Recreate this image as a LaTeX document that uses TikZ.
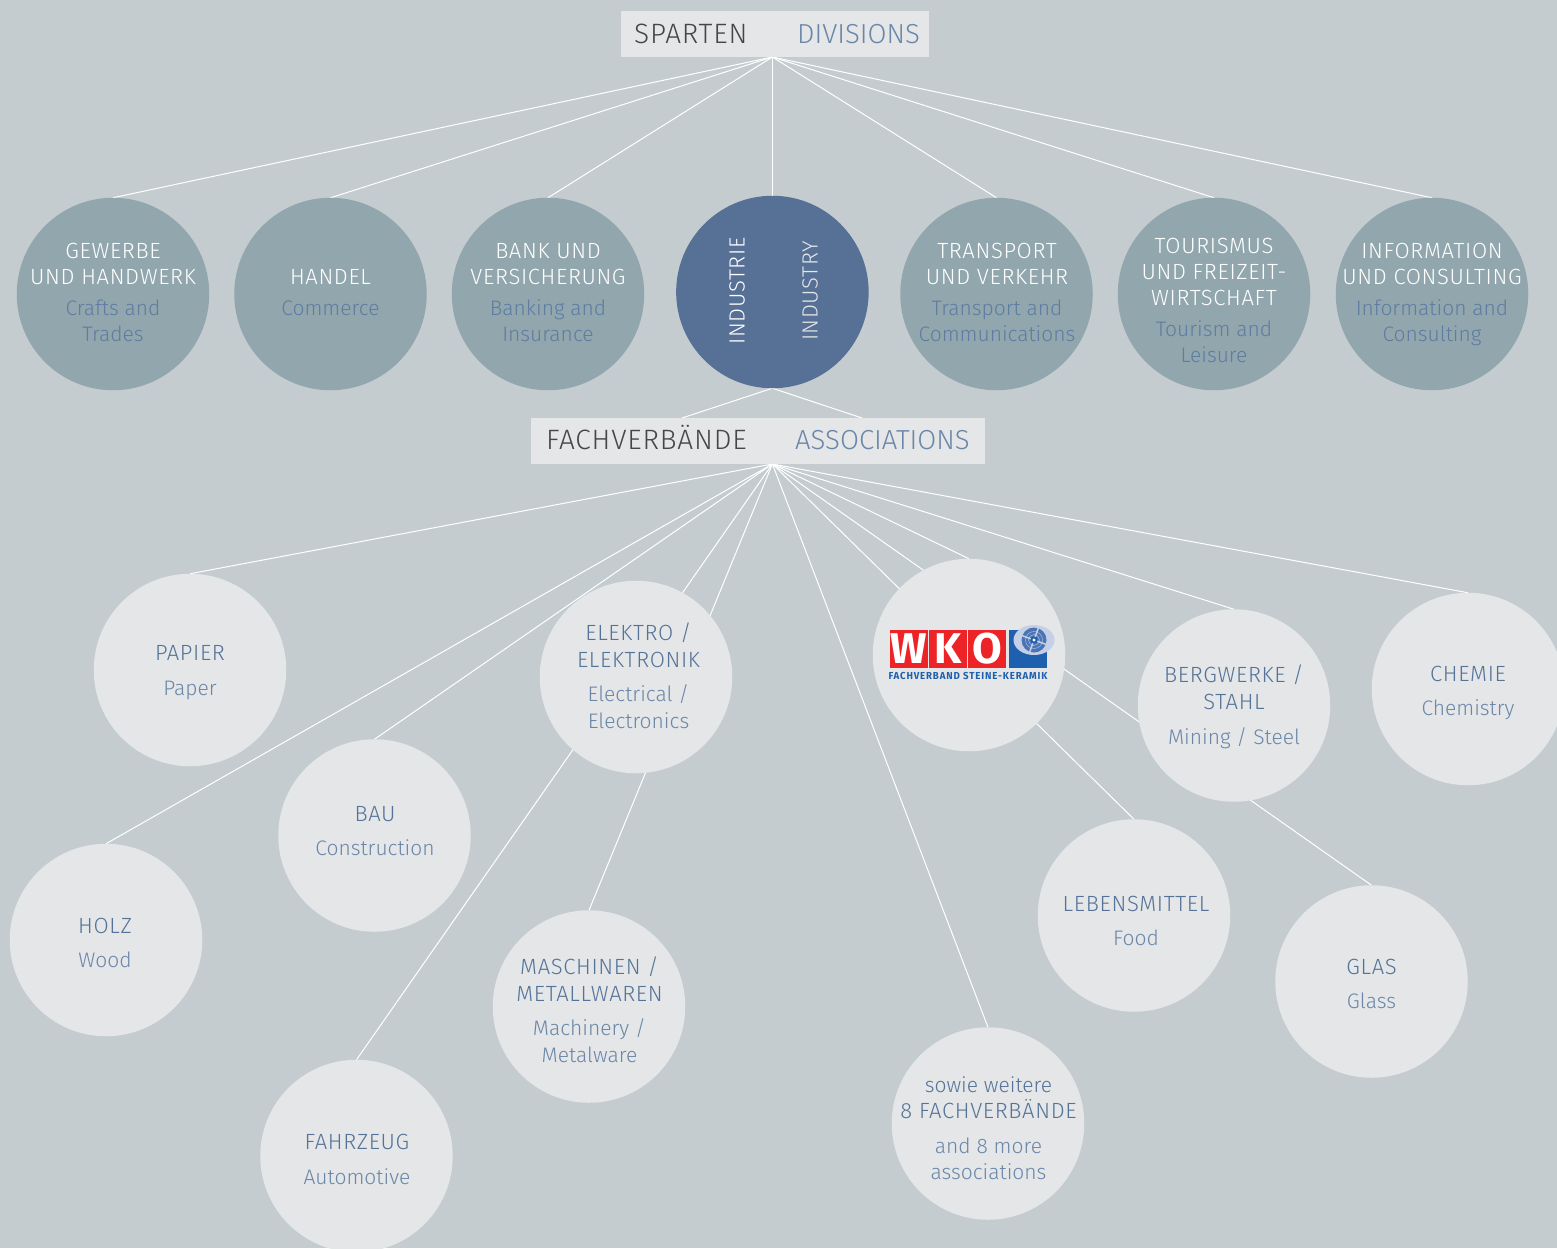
\documentclass[tikz,border=0pt]{standalone}
\usepackage{fontspec}
\usetikzlibrary{backgrounds,shapes.geometric}
\setmainfont{Fira Sans Light}
\newfontfamily\logofont{Fira Sans Bold}
\newfontfamily\logosmall{Fira Sans Bold}[LetterSpace=9]
\newfontfamily\defont{Fira Sans Light}[LetterSpace=3]
\definecolor{bgc}{HTML}{C4CCD0}
\definecolor{lightc}{HTML}{E4E6E8}
\definecolor{greyc}{HTML}{92A6AD}
\definecolor{indc}{HTML}{567096}
\definecolor{dec}{HTML}{557398}
\definecolor{enc}{HTML}{6A86A8}
\definecolor{enonc}{HTML}{5F7CA2}
\definecolor{darkc}{HTML}{444648}
\definecolor{wred}{HTML}{EC2327}
\definecolor{wblue}{HTML}{1F60AE}
\definecolor{globec}{HTML}{C5D0E8}
\definecolor{globed}{HTML}{4A74B4}
\tikzset{x=1pt,y=-1pt,
  circ/.style={circle,minimum size=192.5pt,inner sep=0pt,outer sep=0pt},
  topc/.style={circ,fill=greyc},
  lowc/.style={circ,fill=lightc},
  conn/.style={draw=white,line width=1pt},
  capbox/.style={rectangle,fill=lightc,inner sep=0pt,outer sep=0pt},
  capde/.style={inner sep=0pt,text=darkc,font=\defont\fontsize{28}{30}\selectfont,anchor=base west},
  capen/.style={inner sep=0pt,text=enc,font=\fontsize{27.5}{30}\selectfont,anchor=base west},
  toptxt/.style={inner sep=0pt,align=center,text=white,font=\fontsize{21}{26}\selectfont},
  lowtxt/.style={inner sep=0pt,align=center,text=dec,font=\fontsize{21}{26}\selectfont},
  logotxt/.style={inner sep=0pt,text=white,font=\logofont\fontsize{43}{43}\selectfont},
  redsq/.style={rectangle,fill=wred,minimum size=38pt,inner sep=0pt,outer sep=0pt},
}
\newcommand{\de}[1]{{\defont\fontsize{22}{26}\selectfont #1}}
\newcommand{\en}[1]{\textcolor{enc}{#1}}
\newcommand{\eno}[1]{\textcolor{enonc}{#1}}
\begin{document}
\begin{tikzpicture}
\useasboundingbox (0,0) rectangle (1557,1248);
\coordinate (apexA) at (772.4,57);
\coordinate (apexB) at (772.4,464);
\coordinate (forkL) at (682,418);
\coordinate (forkR) at (862,418);
\node[topc] (gew) at (113,294) {};
\node[topc] (han) at (330.5,294) {};
\node[topc] (ban) at (548,294) {};
\node[circ,fill=indc] (ind) at (772.4,292) {};
\node[topc] (tra) at (996.5,294) {};
\node[topc] (tou) at (1214,294) {};
\node[topc] (inf) at (1432,294) {};
\node[lowc] (pap) at (190,670) {};
\node[lowc] (hol) at (106,940) {};
\node[lowc] (bau) at (374.5,835.5) {};
\node[lowc] (ele) at (636,677) {};
\node[lowc] (fah) at (356.5,1156) {};
\node[lowc] (mas) at (589,1006.5) {};
\node[lowc] (sow) at (988,1123.5) {};
\node[lowc] (wko) at (969,655) {};
\node[lowc] (leb) at (1134,915.5) {};
\node[lowc] (ber) at (1234,705.5) {};
\node[lowc] (gla) at (1371.5,981.5) {};
\node[lowc] (che) at (1468,689) {};
\node[capbox,minimum width=308pt,minimum height=46pt] (boxA) at (775,34) {};
\node[capbox,minimum width=454pt,minimum height=46pt] (boxB) at (758,441) {};
\begin{pgfonlayer}{background}
\fill[bgc] (0,0) rectangle (1557,1248);
\foreach \n in {gew,han,ban,ind,tra,tou,inf}{\draw[conn] (apexA) -- (\n.north);}
\draw[conn] (ind.south) -- (forkL);
\draw[conn] (ind.south) -- (forkR);
\foreach \n in {pap,hol,bau,fah,mas,sow,wko,leb,ber,gla,che}{\draw[conn] (apexB) -- (\n.north);}
\end{pgfonlayer}
% captions
\node[capde] (capA1) at (634,43) {SPARTEN};
\node[capen] (capA2) at (797,43) {DIVISIONS};
\node[capde] (capB1) at (546,449.5) {FACHVERBÄNDE};
\node[capen] (capB2) at (795,449.5) {ASSOCIATIONS};
% upper circle texts
\node[toptxt] (tgew) at (113,292.5) {\de{GEWERBE}\\\de{UND HANDWERK}\\[5pt]\eno{Crafts and}\\\eno{Trades}};
\node[toptxt] (than) at (330.5,292.5) {\de{HANDEL}\\[5pt]\eno{Commerce}};
\node[toptxt] (tban) at (548,293) {\de{BANK UND}\\\de{VERSICHERUNG}\\[5pt]\eno{Banking and}\\\eno{Insurance}};
\node[toptxt,rotate=90] (tind1) at (737,291) {\de{INDUSTRIE}};
\node[toptxt,rotate=90,text=lightc] (tind2) at (810,291) {\de{INDUSTRY}};
\node[toptxt] (ttra) at (997,292.5) {\de{TRANSPORT}\\\de{UND VERKEHR}\\[5pt]\eno{Transport and}\\\eno{Communications}};
\node[toptxt] (ttou) at (1214,300.5) {\de{TOURISMUS}\\\de{UND FREIZEIT-}\\\de{WIRTSCHAFT}\\[5pt]\eno{Tourism and}\\\eno{Leisure}};
\node[toptxt] (tinf) at (1432,294.5) {\de{INFORMATION}\\\de{UND CONSULTING}\\[5pt]\eno{Information and}\\\eno{Consulting}};
% lower circle texts
\node[lowtxt] (tpap) at (190,672.5) {\de{PAPIER}\\[9pt]\en{Paper}};
\node[lowtxt] (thol) at (105,943) {\de{HOLZ}\\[8pt]\en{Wood}};
\node[lowtxt] (tbau) at (375,831) {\de{BAU}\\[8pt]\en{Construction}};
\node[lowtxt] (tele) at (638.5,676) {\de{ELEKTRO /}\\[1pt]\de{ELEKTRONIK}\\[8pt]\en{Electrical /}\\[1pt]\en{Electronics}};
\node[lowtxt] (tfah) at (357,1159.5) {\de{FAHRZEUG}\\[9pt]\en{Automotive}};
\node[lowtxt] (tmas) at (589.5,1010) {\de{MASCHINEN /}\\[1pt]\de{METALLWAREN}\\[8pt]\en{Machinery /}\\[1pt]\en{Metalware}};
\node[lowtxt] (tsow) at (988.5,1128.5) {sowie weitere\\\de{8 FACHVERBÄNDE}\\[9pt]\en{and 8 more}\\\en{associations}};
\node[lowtxt] (tleb) at (1136,921) {\de{LEBENSMITTEL}\\[8pt]\en{Food}};
\node[lowtxt] (tber) at (1234,707) {\de{BERGWERKE /}\\[1pt]\de{STAHL}\\[9pt]\en{Mining / Steel}};
\node[lowtxt] (tgla) at (1371.5,984) {\de{GLAS}\\[8pt]\en{Glass}};
\node[lowtxt] (tche) at (1468,693) {\de{CHEMIE}\\[8pt]\en{Chemistry}};
% logo
\node[redsq] (lw) at (909,649) {};
\node[redsq] (lk) at (948,649) {};
\node[redsq] (lo) at (987,649) {};
\node[logotxt] at (lw) {W};
\node[logotxt] at (lk) {K};
\node[logotxt] at (lo) {O};
\node[rectangle,fill=wblue,minimum size=38pt,inner sep=0pt] (lb) at (1028,649) {};
\node[ellipse,fill=globec,minimum width=41pt,minimum height=30pt,inner sep=0pt] (lg) at (1034,640) {};
\fill[globed] (1034,640) circle (12.5);
\draw[globec!70!globed,line width=.6pt] (1034,640) circle (8.5) (1034,640) circle (5.5);
\draw[globec,line width=1.5pt] (1038.5,627.6) -- (1029.5,652.4) (1021.6,635.5) -- (1046.4,644.5);
\fill[wblue] (1034,640) circle (3.6);
\fill[white] (1034,640) circle (1.6);
\node[inner sep=0pt,text=wblue] (lt) at (968,675.5) {\resizebox{159pt}{7.2pt}{\logosmall FACHVERBAND STEINE-KERAMIK}};
\end{tikzpicture}
\end{document}
